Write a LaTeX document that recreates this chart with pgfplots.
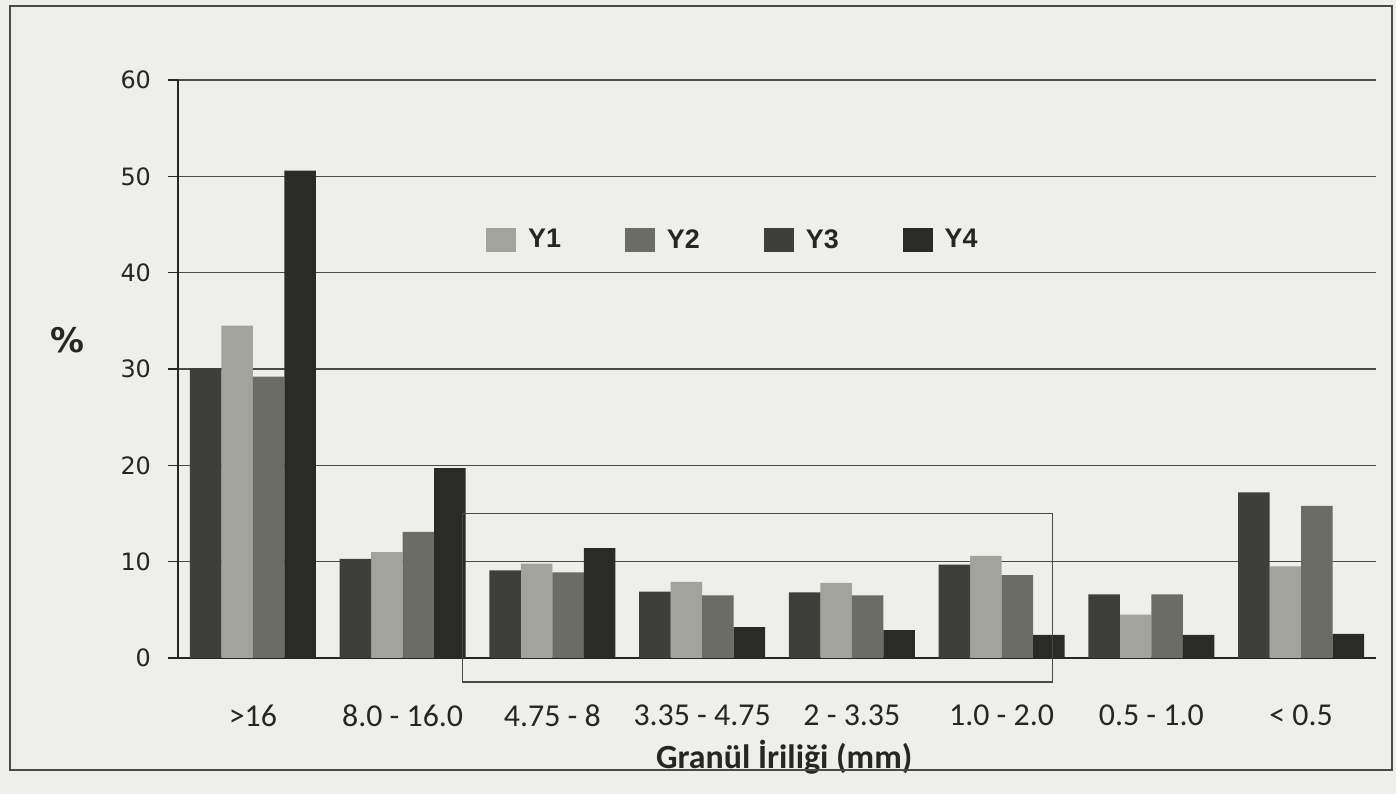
\documentclass[border=0pt]{standalone}
\usepackage{pgfplots}
\pgfplotsset{compat=1.18}
\usepackage{fontspec}
\setmainfont{Carlito}
\newfontfamily\dejavu{DejaVu Sans}
\newfontfamily\arial{Liberation Sans}

\definecolor{paper}{HTML}{EEEEEA}
\definecolor{ink}{HTML}{262624}
\definecolor{gridc}{HTML}{4A4A46}
% bar tones
\definecolor{barlight}{HTML}{A3A39D}
\definecolor{barmed}{HTML}{6C6C66}
\definecolor{bardark}{HTML}{3E3E3A}
\definecolor{bardkst}{HTML}{2A2A27}

\begin{document}
\begin{tikzpicture}
\fill[paper] (0,0) rectangle (698bp,397bp);
\begin{axis}[
  at={(89bp,68bp)}, anchor=south west,
  scale only axis, width=599bp, height=289bp,
  clip=false,
  ybar, bar width=0.21,
  xmin=-0.5, xmax=7.5, ymin=0, ymax=60,
  xtick={0,...,7},
  xticklabels={{>16},{8.0 - 16.0},{4.75 - 8},{3.35 - 4.75},{2 - 3.35},{1.0 - 2.0},{0.5 - 1.0},{< 0.5}},
  x tick style={draw=none},
  xticklabel style={font=\fontsize{16}{18}\selectfont, text=ink},
  xticklabel shift=15bp,
  ytick={0,10,...,60},
  y tick style={draw=ink, line width=0.6bp},
  tick align=outside, major tick length=5bp,
  yticklabel style={font=\dejavu\fontsize{12}{14}\selectfont, text=ink},
  yticklabel shift=5bp,
  /pgf/number format/assume math mode=true,
  ymajorgrids, grid style={gridc, line width=0.8bp},
  axis x line*=bottom, axis y line*=left,
  axis line style={ink, line width=0.8bp},
  xlabel={Granül İriliği (mm)},
  xlabel style={at={(axis description cs:0.506,-0.171)}, anchor=center,
    font=\bfseries\fontsize{17}{19}\selectfont, text=ink},
  ylabel={\%},
  ylabel style={at={(axis description cs:-0.092,0.55)}, anchor=center, rotate=-90,
    font=\dejavu\bfseries\fontsize{17}{19}\selectfont, text=ink},
  legend columns=4,
  legend style={at={(axis description cs:0.464,0.723)}, anchor=center,
    draw=none, fill=none, font=\arial\bfseries\fontsize{13.5}{16}\selectfont,
    text=ink,
    /tikz/every odd column/.append style={column sep=4bp},
    /tikz/every even column/.append style={column sep=30bp}},
  legend image code/.code={\draw[#1, draw=none] (0bp,-6bp) rectangle (15bp,6bp);},
]
% Y1 (second bar of each group)
\addplot[bar shift=-0.105, draw=none, fill=barlight]
  coordinates {(0,34.5) (1,11.0) (2,9.8) (3,7.9) (4,7.8) (5,10.6) (6,4.5) (7,9.5)};
% Y2 (third bar)
\addplot[bar shift=0.105, draw=none, fill=barmed]
  coordinates {(0,29.2) (1,13.1) (2,8.9) (3,6.5) (4,6.5) (5,8.6) (6,6.6) (7,15.8)};
% Y3 (first bar)
\addplot[bar shift=-0.315, draw=none, fill=bardark]
  coordinates {(0,30.1) (1,10.3) (2,9.1) (3,6.9) (4,6.8) (5,9.7) (6,6.6) (7,17.2)};
% Y4 (fourth bar)
\addplot[bar shift=0.315, draw=none, fill=bardkst]
  coordinates {(0,50.6) (1,19.7) (2,11.4) (3,3.2) (4,2.9) (5,2.4) (6,2.4) (7,2.5)};
\legend{Y1,Y2,Y3,Y4}
% frame around the 4.75 -- 2.0 mm classes
\draw[gridc, line width=0.6bp] (axis cs:1.40,-2.5) rectangle (axis cs:5.34,15.0);
\end{axis}
\draw[gridc, line width=0.8bp] (5bp,12bp) rectangle (696bp,394bp);
\useasboundingbox (0,0) rectangle (698bp,397bp);
\end{tikzpicture}
\end{document}
